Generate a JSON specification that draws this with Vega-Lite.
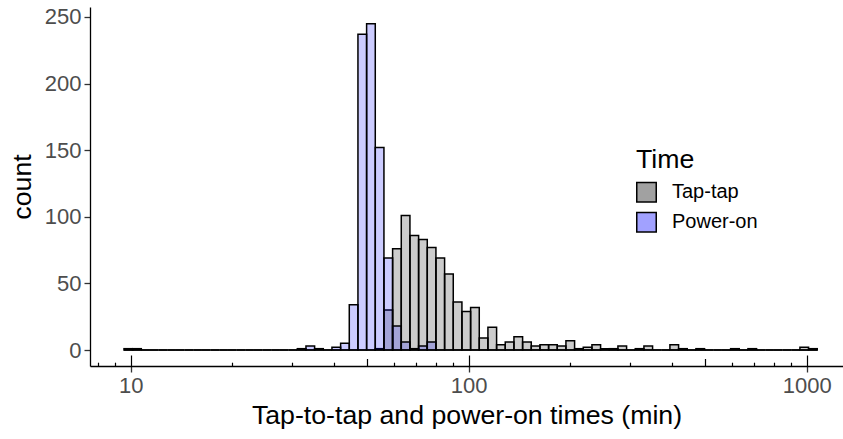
{
  "$schema": "https://vega.github.io/schema/vega-lite/v6.json",
  "width": 753,
  "height": 359,
  "autosize": {"type": "none"},
  "padding": {"left": 90, "top": 7, "right": 0, "bottom": 73},
  "background": "white",
  "config": {"view": {"stroke": null}, "font": "Liberation Sans"},
  "data": {"values": [
    {"lo": 9.555, "hi": 10.135, "Tap-tap": 1, "Power-on": 0},
    {"lo": 10.135, "hi": 10.752, "Tap-tap": 1, "Power-on": 0},
    {"lo": 10.752, "hi": 11.405, "Tap-tap": 0, "Power-on": 0},
    {"lo": 11.405, "hi": 12.099, "Tap-tap": 0, "Power-on": 0},
    {"lo": 12.099, "hi": 12.834, "Tap-tap": 0, "Power-on": 0},
    {"lo": 12.834, "hi": 13.614, "Tap-tap": 0, "Power-on": 0},
    {"lo": 13.614, "hi": 14.442, "Tap-tap": 0, "Power-on": 0},
    {"lo": 14.442, "hi": 15.320, "Tap-tap": 0, "Power-on": 0},
    {"lo": 15.320, "hi": 16.251, "Tap-tap": 0, "Power-on": 0},
    {"lo": 16.251, "hi": 17.239, "Tap-tap": 0, "Power-on": 0},
    {"lo": 17.239, "hi": 18.288, "Tap-tap": 0, "Power-on": 0},
    {"lo": 18.288, "hi": 19.400, "Tap-tap": 0, "Power-on": 0},
    {"lo": 19.400, "hi": 20.579, "Tap-tap": 0, "Power-on": 0},
    {"lo": 20.579, "hi": 21.831, "Tap-tap": 0, "Power-on": 0},
    {"lo": 21.831, "hi": 23.158, "Tap-tap": 0, "Power-on": 0},
    {"lo": 23.158, "hi": 24.566, "Tap-tap": 0, "Power-on": 0},
    {"lo": 24.566, "hi": 26.060, "Tap-tap": 0, "Power-on": 0},
    {"lo": 26.060, "hi": 27.645, "Tap-tap": 0, "Power-on": 0},
    {"lo": 27.645, "hi": 29.326, "Tap-tap": 0, "Power-on": 0},
    {"lo": 29.326, "hi": 31.117, "Tap-tap": 0, "Power-on": 0},
    {"lo": 31.117, "hi": 33.008, "Tap-tap": 0, "Power-on": 1},
    {"lo": 33.008, "hi": 35.015, "Tap-tap": 0, "Power-on": 3},
    {"lo": 35.015, "hi": 37.144, "Tap-tap": 0, "Power-on": 1},
    {"lo": 37.144, "hi": 39.403, "Tap-tap": 0, "Power-on": 0},
    {"lo": 39.403, "hi": 41.799, "Tap-tap": 0, "Power-on": 2},
    {"lo": 41.799, "hi": 44.341, "Tap-tap": 0, "Power-on": 5},
    {"lo": 44.341, "hi": 47.037, "Tap-tap": 0, "Power-on": 34},
    {"lo": 47.037, "hi": 49.897, "Tap-tap": 0, "Power-on": 237},
    {"lo": 49.897, "hi": 52.931, "Tap-tap": 0, "Power-on": 245},
    {"lo": 52.931, "hi": 56.150, "Tap-tap": 1, "Power-on": 152},
    {"lo": 56.150, "hi": 59.564, "Tap-tap": 30, "Power-on": 69},
    {"lo": 59.564, "hi": 63.186, "Tap-tap": 76, "Power-on": 18},
    {"lo": 63.186, "hi": 67.028, "Tap-tap": 101, "Power-on": 6},
    {"lo": 67.028, "hi": 71.104, "Tap-tap": 86, "Power-on": 1},
    {"lo": 71.104, "hi": 75.428, "Tap-tap": 83, "Power-on": 3},
    {"lo": 75.428, "hi": 80.015, "Tap-tap": 77, "Power-on": 6},
    {"lo": 80.015, "hi": 84.880, "Tap-tap": 69, "Power-on": 0},
    {"lo": 84.880, "hi": 90.041, "Tap-tap": 57, "Power-on": 0},
    {"lo": 90.041, "hi": 95.516, "Tap-tap": 36, "Power-on": 0},
    {"lo": 95.516, "hi": 101.33, "Tap-tap": 29, "Power-on": 0},
    {"lo": 101.33, "hi": 107.49, "Tap-tap": 32, "Power-on": 0},
    {"lo": 107.49, "hi": 114.02, "Tap-tap": 9, "Power-on": 0},
    {"lo": 114.02, "hi": 120.96, "Tap-tap": 17, "Power-on": 0},
    {"lo": 120.96, "hi": 128.31, "Tap-tap": 4, "Power-on": 0},
    {"lo": 128.31, "hi": 136.14, "Tap-tap": 6, "Power-on": 0},
    {"lo": 136.14, "hi": 144.41, "Tap-tap": 10, "Power-on": 0},
    {"lo": 144.41, "hi": 153.19, "Tap-tap": 6, "Power-on": 0},
    {"lo": 153.19, "hi": 162.51, "Tap-tap": 3, "Power-on": 0},
    {"lo": 162.51, "hi": 172.39, "Tap-tap": 4, "Power-on": 0},
    {"lo": 172.39, "hi": 182.87, "Tap-tap": 4, "Power-on": 0},
    {"lo": 182.87, "hi": 193.99, "Tap-tap": 3, "Power-on": 0},
    {"lo": 193.99, "hi": 205.79, "Tap-tap": 7, "Power-on": 0},
    {"lo": 205.79, "hi": 218.31, "Tap-tap": 1, "Power-on": 0},
    {"lo": 218.31, "hi": 231.58, "Tap-tap": 2, "Power-on": 0},
    {"lo": 231.58, "hi": 245.66, "Tap-tap": 4, "Power-on": 0},
    {"lo": 245.66, "hi": 260.60, "Tap-tap": 1, "Power-on": 0},
    {"lo": 260.60, "hi": 276.45, "Tap-tap": 1, "Power-on": 0},
    {"lo": 276.45, "hi": 293.26, "Tap-tap": 3, "Power-on": 0},
    {"lo": 293.26, "hi": 311.09, "Tap-tap": 0, "Power-on": 0},
    {"lo": 311.09, "hi": 330.01, "Tap-tap": 1, "Power-on": 0},
    {"lo": 330.01, "hi": 350.08, "Tap-tap": 3, "Power-on": 0},
    {"lo": 350.08, "hi": 371.37, "Tap-tap": 0, "Power-on": 0},
    {"lo": 371.37, "hi": 393.96, "Tap-tap": 0, "Power-on": 0},
    {"lo": 393.96, "hi": 417.92, "Tap-tap": 4, "Power-on": 0},
    {"lo": 417.92, "hi": 443.33, "Tap-tap": 1, "Power-on": 0},
    {"lo": 443.33, "hi": 470.29, "Tap-tap": 0, "Power-on": 0},
    {"lo": 470.29, "hi": 498.89, "Tap-tap": 1, "Power-on": 0},
    {"lo": 498.89, "hi": 529.23, "Tap-tap": 0, "Power-on": 0},
    {"lo": 529.23, "hi": 561.41, "Tap-tap": 0, "Power-on": 0},
    {"lo": 561.41, "hi": 595.66, "Tap-tap": 0, "Power-on": 0},
    {"lo": 595.66, "hi": 631.88, "Tap-tap": 1, "Power-on": 0},
    {"lo": 631.88, "hi": 670.31, "Tap-tap": 0, "Power-on": 0},
    {"lo": 670.31, "hi": 711.07, "Tap-tap": 1, "Power-on": 0},
    {"lo": 711.07, "hi": 754.31, "Tap-tap": 0, "Power-on": 0},
    {"lo": 754.31, "hi": 800.18, "Tap-tap": 0, "Power-on": 0},
    {"lo": 800.18, "hi": 848.84, "Tap-tap": 0, "Power-on": 0},
    {"lo": 848.84, "hi": 900.46, "Tap-tap": 0, "Power-on": 0},
    {"lo": 900.46, "hi": 955.22, "Tap-tap": 0, "Power-on": 0},
    {"lo": 955.22, "hi": 1013.3, "Tap-tap": 2, "Power-on": 0},
    {"lo": 1013.3, "hi": 1074.9, "Tap-tap": 1, "Power-on": 0}
  ]},
  "transform": [{"fold": ["Tap-tap", "Power-on"], "as": ["Time", "count"]}],
  "layer": [
    {
      "mark": {"type": "rect", "fillOpacity": 0.2, "stroke": "black", "strokeWidth": 1.5},
      "encoding": {
        "x": {
          "field": "lo", "type": "quantitative",
          "scale": {"type": "log", "domain": [7.58, 1281], "nice": false, "zero": false},
          "axis": {
            "values": [10, 100, 1000], "format": "d", "grid": false,
            "title": "Tap-to-tap and power-on times (min)",
            "domainColor": "black", "domainWidth": 1.3,
            "tickColor": "#333333", "tickWidth": 1.3, "tickSize": 6,
            "labelFontSize": 22, "labelColor": "#4D4D4D", "labelPadding": 3, "labelFlush": false,
            "titleFontSize": 26.7, "titleFontWeight": "normal", "titleColor": "black", "titlePadding": 6
          }
        },
        "x2": {"field": "hi"},
        "y": {
          "field": "count", "type": "quantitative",
          "scale": {"domain": [-12, 257.5], "nice": false, "zero": false},
          "axis": {
            "values": [0, 50, 100, 150, 200, 250], "grid": false, "title": "count",
            "domainColor": "black", "domainWidth": 1.3,
            "tickColor": "#333333", "tickWidth": 1.3, "tickSize": 6,
            "labelFontSize": 22, "labelColor": "#4D4D4D", "labelPadding": 3,
            "titleFontSize": 26.7, "titleFontWeight": "normal", "titleColor": "black", "titlePadding": 8
          }
        },
        "y2": {"datum": 0},
        "color": {
          "field": "Time", "type": "nominal",
          "scale": {"domain": ["Tap-tap", "Power-on"], "range": ["black", "blue"]},
          "legend": {
            "orient": "none", "legendX": 546, "legendY": 140,
            "titleFontSize": 26.7, "titleFontWeight": "normal", "titleColor": "black", "titlePadding": 8,
            "labelFontSize": 20, "labelColor": "black", "labelOffset": 15,
            "symbolType": "square", "symbolSize": 380, "symbolStrokeColor": "black", "symbolStrokeWidth": 1.5,
            "rowPadding": 3,
            "encode": {"symbols": {"update": {"fillOpacity": {"value": 0.37}, "stroke": {"value": "black"}, "strokeOpacity": {"value": 1}}}}
          }
        }
      }
    },
    {
      "mark": {"type": "rect", "opacity": 0},
      "encoding": {
        "x": {
          "field": "lo", "type": "quantitative",
          "axis": {
            "orient": "bottom",
            "values": [8, 9, 10, 20, 30, 40, 50, 60, 70, 80, 90, 100, 200, 300, 400, 500, 600, 700, 800, 900, 1000],
            "labels": false, "domain": false, "grid": false, "title": null,
            "tickColor": "black", "tickWidth": 1.2,
            "tickSize": {"condition": [
              {"test": "datum.value == 10 || datum.value == 100 || datum.value == 1000", "value": -11},
              {"test": "datum.value == 50 || datum.value == 500", "value": -7.5}
            ], "value": -3.8}
          }
        },
        "x2": {"field": "hi"}
      }
    }
  ],
  "resolve": {"axis": {"x": "independent"}}
}
